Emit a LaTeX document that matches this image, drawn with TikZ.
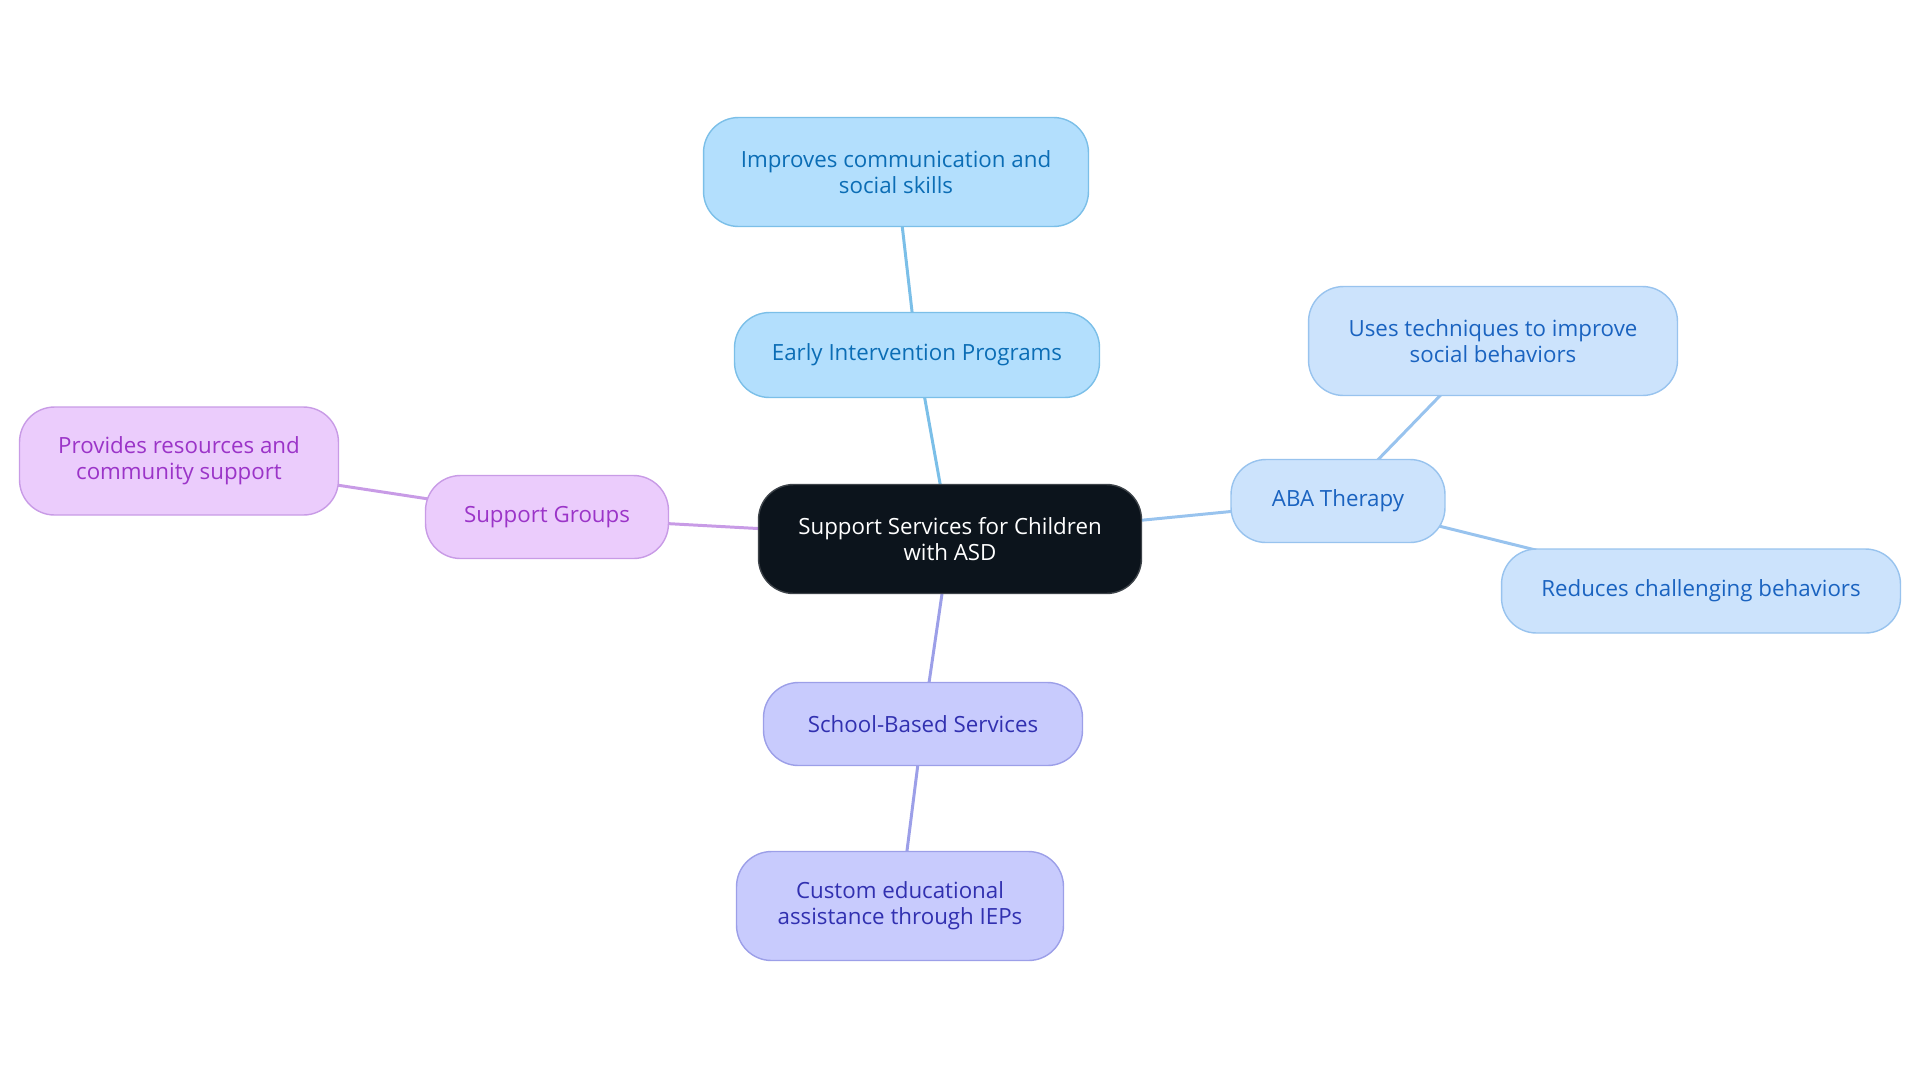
\documentclass[tikz,border=0pt]{standalone}
\usepackage{fontspec}
\setmainfont{Open Sans}
\usetikzlibrary{positioning, backgrounds}
\definecolor{rootfill}{HTML}{0C141C}
\definecolor{eiFill}{HTML}{B3DFFD}
\definecolor{eiDraw}{HTML}{7BBFE8}
\definecolor{eiText}{HTML}{0B6DB5}
\definecolor{abaFill}{HTML}{CCE3FC}
\definecolor{abaDraw}{HTML}{98C3EE}
\definecolor{abaText}{HTML}{1A63C0}
\definecolor{sgFill}{HTML}{EBCCFC}
\definecolor{sgDraw}{HTML}{C89BE6}
\definecolor{sgText}{HTML}{9B34C8}
\definecolor{sbFill}{HTML}{C8CBFD}
\definecolor{sbDraw}{HTML}{9C9FE8}
\definecolor{sbText}{HTML}{3130B0}
\tikzset{
    topic/.style={draw, rectangle, rounded corners=0.7cm, line width=0.8pt, align=center, font=\fontsize{12.7}{14.8}\selectfont},
    rootnode/.style={topic, fill=rootfill, draw=rootfill!80!white, text=white},
    eibox/.style={topic, fill=eiFill, draw=eiDraw, text=eiText},
    ababox/.style={topic, fill=abaFill, draw=abaDraw, text=abaText},
    sgbox/.style={topic, fill=sgFill, draw=sgDraw, text=sgText},
    sbbox/.style={topic, fill=sbFill, draw=sbDraw, text=sbText},
    link/.style={draw, line width=1.7pt}
}

\begin{document}
\begin{tikzpicture}[x=0.02cm, y=-0.02cm]
    \useasboundingbox (0,0) rectangle (1920,1083);

    \node [rootnode, minimum width=7.66cm, minimum height=2.18cm] (root) at (950,539) {Support Services for Children\\with ASD};

    \node [eibox, minimum width=7.3cm, minimum height=1.7cm] (early) at (917,355) {Early Intervention Programs};
    \node [eibox, minimum width=7.7cm, minimum height=2.18cm] (earlyA) at (896,172) {Improves communication and\\social skills};

    \node [ababox, minimum width=4.28cm, minimum height=1.66cm] (aba) at (1338,501) {ABA Therapy};
    \node [ababox, minimum width=7.38cm, minimum height=2.18cm] (abaA) at (1493,341) {Uses techniques to improve\\social behaviors};
    \node [ababox, minimum width=7.98cm, minimum height=1.68cm] (abaB) at (1701,591) {Reduces challenging behaviors};

    \node [sgbox, minimum width=4.86cm, minimum height=1.66cm] (groups) at (547,517) {Support Groups};
    \node [sgbox, minimum width=6.38cm, minimum height=2.16cm] (groupsA) at (179,461) {Provides resources and\\community support};

    \node [sbbox, minimum width=6.38cm, minimum height=1.66cm] (school) at (923,724) {School-Based Services};
    \node [sbbox, minimum width=6.54cm, minimum height=2.18cm] (schoolA) at (900,906) {Custom educational\\assistance through IEPs};

    \begin{scope}[on background layer]
        \draw [link, eiDraw] (root.center) -- (early.center) -- (earlyA.center);
        \draw [link, abaDraw] (root.center) -- (aba.center) -- (abaA.center);
        \draw [link, abaDraw] (aba.center) -- (abaB.center);
        \draw [link, sgDraw] (root.center) -- (groups.center) -- (groupsA.center);
        \draw [link, sbDraw] (root.center) -- (school.center) -- (schoolA.center);
    \end{scope}
\end{tikzpicture}
\end{document}
